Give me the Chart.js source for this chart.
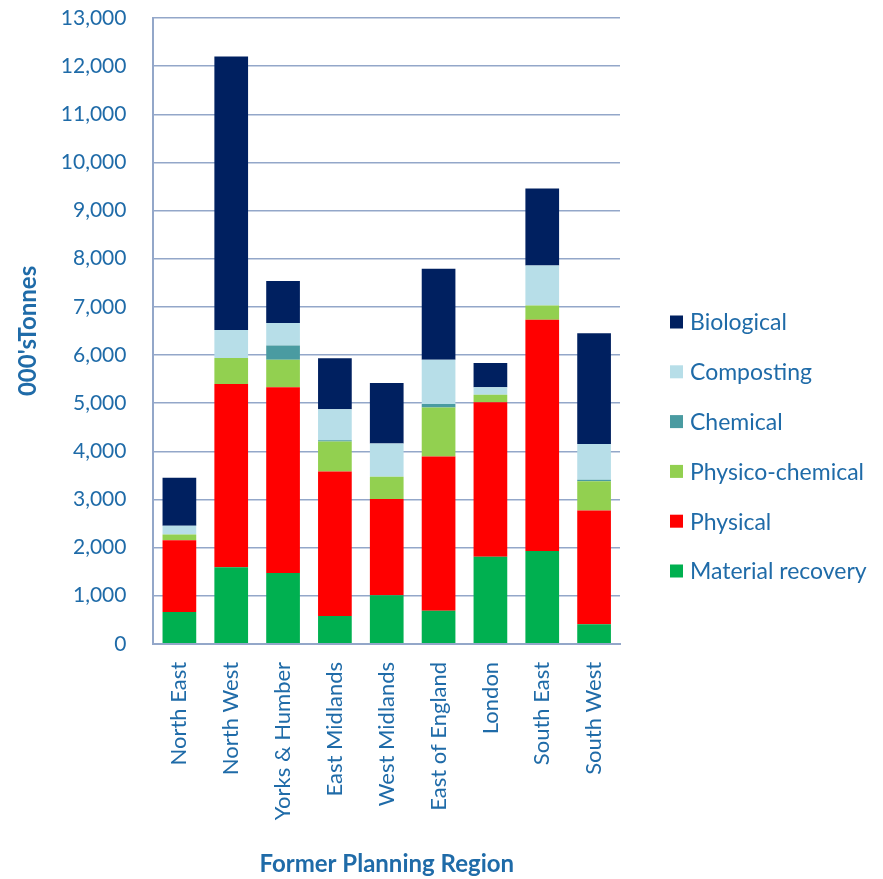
<!DOCTYPE html>
<html>
<head>
<meta charset="utf-8">
<script src="https://cdn.jsdelivr.net/npm/chart.js@4/dist/chart.umd.min.js"></script>
<style>
  html, body { margin: 0; padding: 0; background: #ffffff; }
  #wrap { width: 883px; height: 879px; position: relative; }
</style>
</head>
<body>
<div id="wrap"><canvas id="c" width="883" height="879"></canvas></div>
<script>
const categories = ["North East", "North West", "Yorks & Humber", "East Midlands", "West Midlands", "East of England", "London", "South East", "South West"];
const materialRecovery = [660, 1590, 1470, 580, 1010, 690, 1810, 1930, 410];
const physical        = [1490, 3810, 3860, 3000, 2000, 3200, 3210, 4800, 2360];
const physicoChemical = [120, 540, 570, 625, 460, 1020, 155, 300, 610];
const chemical        = [0, 0, 300, 25, 0, 70, 0, 0, 30];
const composting      = [185, 580, 465, 645, 690, 920, 155, 830, 740];
const biological      = [995, 5680, 870, 1060, 1260, 1890, 505, 1600, 2300];
const seriesNames = ["Material recovery", "Physical", "Physico-chemical", "Chemical", "Composting", "Biological"];
const yTicks = [0, 1000, 2000, 3000, 4000, 5000, 6000, 7000, 8000, 9000, 10000, 11000, 12000, 13000];

const colors = ["#00B050", "#FF0000", "#92D050", "#4A9BA1", "#B7DEE8", "#002060"];
const seriesData = [materialRecovery, physical, physicoChemical, chemical, composting, biological];
const textColor = "#1F6BA8";
const gridColor = "#93A7C9";
const fontFamily = "Lato, 'Open Sans', sans-serif";

// Legend drawn at the right, top entry = last dataset (Biological)
const sideLegend = {
  id: "sideLegend",
  afterDraw(chart) {
    const ctx = chart.ctx;
    const ds = chart.data.datasets;
    const boxX = 670, textX = 690, firstY = 322, step = 49.8, box = 13;
    ctx.save();
    ctx.font = "23px " + fontFamily;
    ctx.textBaseline = "middle";
    ctx.textAlign = "left";
    for (let k = 0; k < ds.length; k++) {
      const d = ds[ds.length - 1 - k];
      const y = firstY + k * step;
      ctx.fillStyle = d.backgroundColor;
      ctx.fillRect(boxX, y - box / 2, box, box);
      ctx.fillStyle = textColor;
      ctx.fillText(d.label, textX, y + 1);
    }
    ctx.restore();
  }
};

function draw() {
  new Chart(document.getElementById("c"), {
    type: "bar",
    data: {
      labels: categories,
      datasets: seriesNames.map((n, i) => ({
        label: n,
        data: seriesData[i],
        backgroundColor: colors[i],
        borderWidth: 0,
        categoryPercentage: 1.0,
        barPercentage: 0.65
      }))
    },
    options: {
      responsive: false,
      animation: false,
      layout: { padding: { top: 18, right: 263, bottom: 0, left: 4 } },
      plugins: {
        legend: { display: false },
        tooltip: { enabled: false }
      },
      scales: {
        x: {
          stacked: true,
          grid: { display: false, drawTicks: false },
          border: { display: true, color: gridColor, width: 2 },
          ticks: {
            color: textColor,
            font: { family: fontFamily, size: 22 },
            minRotation: 90,
            maxRotation: 90,
            padding: 18
          },
          title: {
            display: true,
            text: "Former Planning Region",
            color: textColor,
            font: { family: fontFamily, size: 24, weight: "bold" },
            padding: { top: 12, bottom: 0 }
          }
        },
        y: {
          stacked: true,
          min: 0,
          max: 13000,
          afterBuildTicks: (axis) => { axis.ticks = yTicks.map(v => ({ value: v })); },
          grid: { color: gridColor, lineWidth: 1.5, drawTicks: true, tickLength: 25, tickColor: "rgba(0,0,0,0)" },
          border: { display: true, color: gridColor, width: 2 },
          ticks: {
            color: textColor,
            font: { family: fontFamily, size: 21 },
            padding: 2,
            callback: (v) => v.toLocaleString("en-US")
          },
          title: {
            display: true,
            text: "000'sTonnes",
            color: textColor,
            font: { family: fontFamily, size: 24, weight: "bold" },
            padding: { top: 10, bottom: 16 }
          }
        }
      }
    },
    plugins: [sideLegend]
  });
}

const fontLoads = document.fonts && document.fonts.load
  ? Promise.all([
      document.fonts.load("21px Lato"),
      document.fonts.load("22px Lato"),
      document.fonts.load("23px Lato"),
      document.fonts.load("bold 24px Lato")
    ]).catch(() => null)
  : Promise.resolve();
fontLoads.then(draw, draw);
</script>
</body>
</html>
